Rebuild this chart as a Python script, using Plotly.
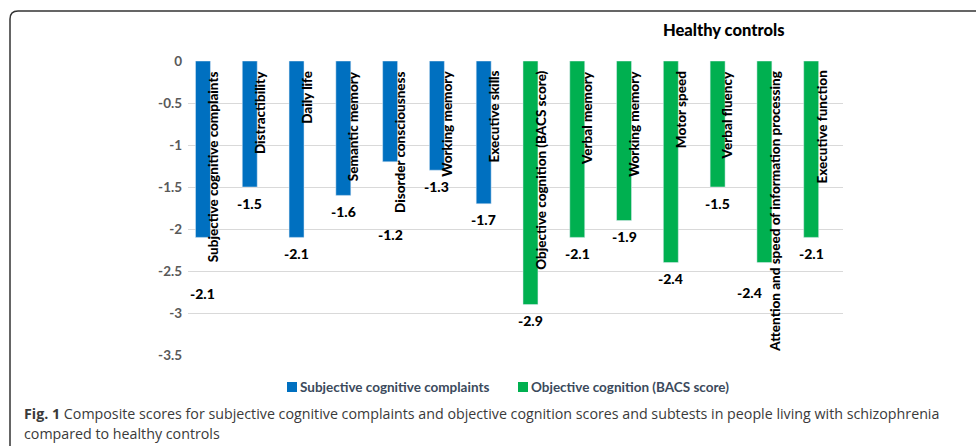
import plotly.graph_objects as go

# ---------------- data ----------------
subj_categories = ["Subjective cognitive complaints", "Distractibility", "Daily life",
                   "Semantic memory", "Disorder consciousness", "Working memory",
                   "Executive skills"]
subj_values = [-2.1, -1.5, -2.1, -1.6, -1.2, -1.3, -1.7]

obj_categories = ["Objective cognition (BACS score)", "Verbal memory", "Working memory",
                  "Motor speed", "Verbal fluency",
                  "Attention and speed of information processing", "Executive function"]
obj_values = [-2.9, -2.1, -1.9, -2.4, -1.5, -2.4, -2.1]

series_names = ["Subjective cognitive complaints", "Objective cognition (BACS score)"]
y_ticks = [0, -0.5, -1, -1.5, -2, -2.5, -3, -3.5]
y_tick_labels = ["0", "-0.5", "-1", "-1.5", "-2", "-2.5", "-3", "-3.5"]
chart_title = "Healthy controls"
caption_bold = "Fig. 1"
caption_line1 = (" Composite scores for subjective cognitive complaints and objective cognition "
                 "scores and subtests in people living with schizophrenia")
caption_line2 = "compared to healthy controls"

# ---------------- style ----------------
BLUE = "#0070C0"
GREEN = "#00B050"
CHART_FONT = "Lato"
CAPTION_FONT = "Open Sans"

W, H = 976, 446
L, R, T, B = 188, 133, 61, 91
PW, PH = W - L - R, H - T - B


def px_x(X):
    return (X - L) / PW


def px_y(Y):
    return (H - B - Y) / PH


x_subj = list(range(len(subj_values)))
x_obj = [len(subj_values) + i for i in range(len(obj_values))]
bar_w = 0.32

fig = go.Figure()
fig.add_trace(go.Bar(x=x_subj, y=subj_values, width=bar_w, marker_color=BLUE,
                     name=series_names[0], showlegend=False, hoverinfo="y"))
fig.add_trace(go.Bar(x=x_obj, y=obj_values, width=bar_w, marker_color=GREEN,
                     name=series_names[1], showlegend=False, hoverinfo="y"))

annotations = []
label_font = dict(family=CHART_FONT, size=13.5, color="#000000", weight=900)

# category labels (rotated, inside bars)
for xs, cats in ((x_subj, subj_categories), (x_obj, obj_categories)):
    for x, c in zip(xs, cats):
        annotations.append(dict(x=x + 0.21, y=0, xref="x", yref="y", text=c,
                                textangle=-90, showarrow=False, xanchor="center",
                                yanchor="top", yshift=-8, font=label_font))

# value labels (Excel-style manual placement for a few)
label_override = {0: (0.0, -2.77), 4: (0.0, -2.07), 12: (-0.31, -2.75)}
all_x = x_subj + x_obj
all_v = subj_values + obj_values
value_font = dict(family=CHART_FONT, size=14, color="#000000", weight=900)
for i, (x, v) in enumerate(zip(all_x, all_v)):
    if i in label_override:
        dx, ly = label_override[i]
        annotations.append(dict(x=x + dx, y=ly, xref="x", yref="y", text=f"{v:.1f}",
                                showarrow=False, xanchor="center", yanchor="middle",
                                font=value_font))
    else:
        annotations.append(dict(x=x, y=v, xref="x", yref="y", text=f"{v:.1f}",
                                showarrow=False, xanchor="center", yanchor="middle",
                                yshift=-16, font=value_font))

# title
annotations.append(dict(x=px_x(724), y=px_y(30), xref="paper", yref="paper",
                        text=chart_title, showarrow=False,
                        xanchor="center", yanchor="middle",
                        font=dict(family=CHART_FONT, size=16.5, color="#000000",
                                  weight=900)))

# legend (manual)
legend_color = "#3B4A5C"
shapes = []
for sx, color, name in ((287, BLUE, series_names[0]), (518, GREEN, series_names[1])):
    shapes.append(dict(type="rect", xref="paper", yref="paper",
                       x0=px_x(sx), x1=px_x(sx + 10), y0=px_y(382), y1=px_y(392),
                       fillcolor=color, line=dict(width=0)))
    annotations.append(dict(x=px_x(sx + 11), y=px_y(387), xref="paper", yref="paper",
                            text=name, showarrow=False,
                            xanchor="left", yanchor="middle",
                            font=dict(family=CHART_FONT, size=13.5, color=legend_color,
                                      weight="bold")))

# caption
cap_font = dict(family=CAPTION_FONT, size=14.25, color="#3A3A3A")
annotations.append(dict(x=px_x(22), y=px_y(413), xref="paper", yref="paper",
                        text=f"<b>{caption_bold}</b>{caption_line1}", showarrow=False,
                        xanchor="left", yanchor="middle", font=cap_font))
annotations.append(dict(x=px_x(22), y=px_y(433), xref="paper", yref="paper",
                        text=caption_line2, showarrow=False,
                        xanchor="left", yanchor="middle", font=cap_font))

# frame (rounded top-left corner)
fx0, fy0, fx1, fy1, rad = 10, 11, 995, 470, 8
path = (f"M {px_x(fx0)} {px_y(fy1)} L {px_x(fx0)} {px_y(fy0 + rad)} "
        f"Q {px_x(fx0)} {px_y(fy0)} {px_x(fx0 + rad)} {px_y(fy0)} "
        f"L {px_x(fx1)} {px_y(fy0)}")
shapes.append(dict(type="path", xref="paper", yref="paper", path=path,
                   line=dict(color="#333333", width=1.5)))

fig.update_layout(
    width=W, height=H,
    margin=dict(l=L, r=R, t=T, b=B, autoexpand=False),
    paper_bgcolor="white", plot_bgcolor="white",
    barmode="overlay",
    showlegend=False,
    annotations=annotations,
    shapes=shapes,
    xaxis=dict(range=[-0.32, 13.68], visible=False, fixedrange=True),
    yaxis=dict(range=[-3.5, 0], tickvals=y_ticks, ticktext=y_tick_labels,
               showgrid=True, gridcolor="#D9D9D9", gridwidth=1, zeroline=False,
               showline=False, ticks="", ticklabelstandoff=5, fixedrange=True,
               tickfont=dict(family=CHART_FONT, size=13.5, color="#595959", weight="bold")),
)

fig.write_html("out.html", config={"displayModeBar": False},
               post_script="document.body.style.margin='0';document.body.style.overflow='hidden';")
